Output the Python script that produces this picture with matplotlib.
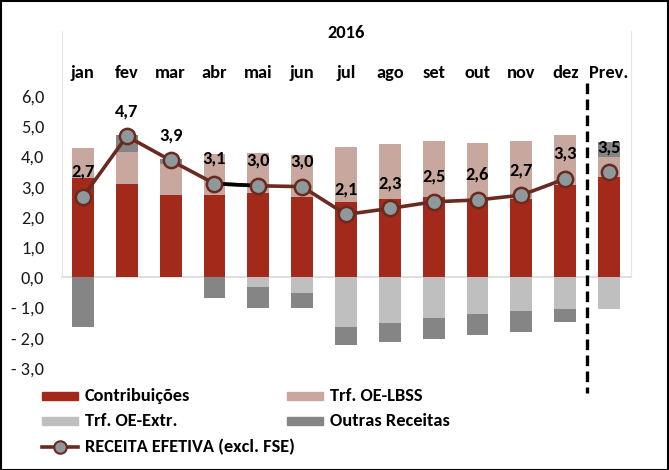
import matplotlib
matplotlib.use("Agg")
import matplotlib.pyplot as plt
import matplotlib.transforms as mtransforms
from matplotlib import font_manager
from matplotlib.patches import Rectangle
from matplotlib.lines import Line2D
import numpy as np

# ---- data ----
categories = ["jan", "fev", "mar", "abr", "mai", "jun", "jul", "ago", "set", "out", "nov", "dez", "Prev."]
year_label = "2016"
contribuicoes = [3.28, 3.10, 2.72, 2.72, 2.78, 2.65, 2.48, 2.58, 2.65, 2.60, 2.60, 3.05, 3.31]
trf_lbss = [0.99, 1.04, 1.02, 1.36, 1.32, 1.40, 1.82, 1.82, 1.85, 1.84, 1.90, 1.65, 0.66]
trf_extr = [0.0, 0.0, 0.0, 0.0, -0.33, -0.53, -1.65, -1.52, -1.36, -1.20, -1.12, -1.06, -1.06]
outras = [-1.65, 0.56, 0.16, -0.70, -0.70, -0.50, -0.60, -0.63, -0.69, -0.72, -0.70, -0.43, 0.50]
receita = [2.66, 4.67, 3.87, 3.10, 3.03, 3.00, 2.08, 2.28, 2.50, 2.56, 2.72, 3.26, 3.48]
yticks = [-3, -2, -1, 0, 1, 2, 3, 4, 5, 6]
legend_labels = ["Contribuições", "Trf. OE-LBSS", "Trf. OE-Extr.", "Outras Receitas",
                 "RECEITA EFETIVA (excl. FSE)"]

# ---- fonts ----
avail = {f.name for f in font_manager.fontManager.ttflist}
fam = None
for cand in ["Carlito", "Liberation Sans Narrow", "Lato", "DejaVu Sans"]:
    if cand in avail:
        fam = cand
        break
plt.rcParams["font.family"] = [fam, "DejaVu Sans"]
FS = 13.2

C_CONTRIB = "#A3291B"
C_LBSS = "#C8A79E"
C_EXTR = "#BFBFBF"
C_OUTRAS = "#858585"
C_LINE = "#6B2A20"
C_MARK = "#8E999B"

W, H = 669, 470
fig = plt.figure(figsize=(W / 100, H / 100), dpi=100)

def fx(px):
    return px / W

def fy(py):
    return 1 - py / H

ax = fig.add_axes([fx(61), fy(368), fx(631) - fx(61), fy(96) - fy(368)])

x = np.arange(len(categories))
contrib = np.array(contribuicoes)
lbss = np.array(trf_lbss)
extr = np.array(trf_extr)
outr = np.array(outras)
bw = 0.5

ax.bar(x, contrib, bw, color=C_CONTRIB, zorder=2)
ax.bar(x, lbss, bw, bottom=contrib, color=C_LBSS, zorder=2)
ax.bar(x, extr, bw, color=C_EXTR, zorder=2)
out_bottom = np.where(outr >= 0, contrib + lbss, extr)
ax.bar(x, outr, bw, bottom=out_bottom, color=C_OUTRAS, zorder=2)

ax.axhline(0, color="#D9D9D9", lw=1.2, zorder=1)

# line (months only), prev as separate point
rec = np.array(receita)
nm = 12
ax.plot(x[:nm], rec[:nm], color=C_LINE, lw=2.6, zorder=3, solid_capstyle="round")
ax.plot(x[3:5], rec[3:5], color="black", lw=2.6, zorder=3.5)
ax.plot(x, rec, ls="none", marker="o", ms=11, mfc=C_MARK, mec=C_LINE, mew=1.8, zorder=4)

for xi, v in zip(x, rec):
    ax.annotate(f"{v:.1f}".replace(".", ","), (xi, v), xytext=(0, 18), textcoords="offset points",
                ha="center", va="center", fontsize=FS, fontweight="bold", color="black", zorder=5)

ax.set_xlim(-0.5, len(categories) - 0.5)
ax.set_ylim(-3, 6)
ax.set_yticks(yticks)
ax.set_yticklabels([f"{t:.1f}".replace(".", ",").replace("-", "- ") for t in yticks],
                   fontsize=FS, color="#1a1a1a")
ax.tick_params(axis="y", length=0, pad=12)
ax.tick_params(axis="x", length=0, labelbottom=False)
for s in ax.spines.values():
    s.set_visible(False)

# category labels at top
tr = mtransforms.blended_transform_factory(ax.transData, fig.transFigure)
for xi, c in zip(x, categories):
    ax.text(xi, fy(73), c, transform=tr, ha="center", va="center", fontsize=FS, fontweight="bold")
fig.text((fx(61) + fx(631)) / 2, fy(33), year_label, ha="center", va="center",
         fontsize=FS, fontweight="bold")

# faint category frame lines
for px in (62, 631):
    fig.add_artist(Line2D([fx(px), fx(px)], [fy(31), fy(277)], color="#E6E6E6", lw=0.8))

# dashed separator
xs = (11 + 12) / 2
ax.add_line(Line2D([xs, xs], [fy(83), fy(393)], transform=tr, color="black", lw=2.4,
                   ls=(0, (3.2, 1.6)), clip_on=False, zorder=6))

# legend (manual)
rows = [396, 421, 447]
def patch_entry(px, py, color, label):
    fig.add_artist(Rectangle((fx(px), fy(py + 4)), fx(36), 8 / H, transform=fig.transFigure,
                             color=color))
    fig.text(fx(px + 43), fy(py), label, ha="left", va="center", fontsize=FS, fontweight="bold")

patch_entry(42, rows[0], C_CONTRIB, legend_labels[0])
patch_entry(287, rows[0], C_LBSS, legend_labels[1])
patch_entry(42, rows[1], C_EXTR, legend_labels[2])
patch_entry(287, rows[1], C_OUTRAS, legend_labels[3])
fig.add_artist(Line2D([fx(42), fx(78)], [fy(rows[2]), fy(rows[2])], color=C_LINE, lw=2.6))
fig.add_artist(Line2D([fx(60)], [fy(rows[2])], ls="none", marker="o", ms=9, mfc=C_MARK,
                      mec=C_LINE, mew=1.5))
fig.text(fx(85), fy(rows[2]), legend_labels[4], ha="left", va="center", fontsize=FS,
         fontweight="bold")

# outer border
fig.add_artist(Rectangle((0.5 / W, 0.5 / H), 1 - 1.5 / W, 1 - 1.5 / H, transform=fig.transFigure,
                         fill=False, ec="black", lw=1.5))

fig.savefig("out.png", dpi=100)
